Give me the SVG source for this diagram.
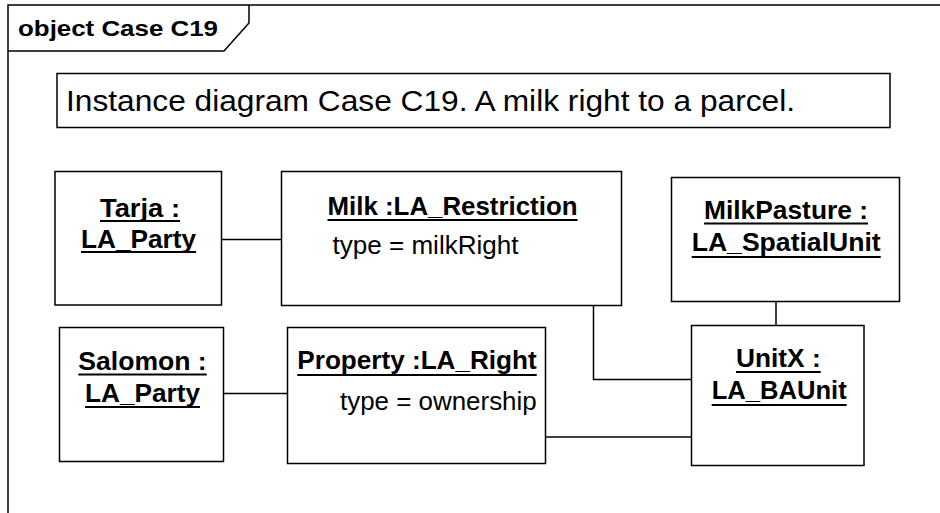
<svg xmlns="http://www.w3.org/2000/svg" width="940" height="513" viewBox="0 0 940 513">
<style>
.box{fill:#fff;stroke:#000;stroke-width:1.5}
.ln{fill:none;stroke:#000;stroke-width:1.5}
.ul{stroke:#000;stroke-width:1.8}
.nm{font-family:"Liberation Sans",Arial,sans-serif;font-weight:bold;font-size:25px;fill:#000}
.at{font-family:"Liberation Sans",Arial,sans-serif;font-size:25px;fill:#000}
</style>
<rect width="940" height="513" fill="#fff"/>
<g id="frame">
<path class="ln" d="M8,513 L8,5 L940,5"/>
<path class="ln" d="M8,51 L224,51 L249,23 L249,5"/>
<text x="18" y="36" font-family="Liberation Sans, Arial, sans-serif" font-weight="bold" font-size="22" textLength="200" lengthAdjust="spacingAndGlyphs">object Case C19</text>
</g>
<g id="note">
<rect class="box" x="57" y="73.5" width="833" height="54"/>
<text x="66" y="111" font-family="Liberation Sans, Arial, sans-serif" font-size="30" textLength="729" lengthAdjust="spacingAndGlyphs">Instance diagram Case C19. A milk right to a parcel.</text>
</g>
<g id="connectors">
<path class="ln" d="M221.5,239.5 L281.5,239.5"/>
<path class="ln" d="M223.5,393.5 L287.5,393.5"/>
<path class="ln" d="M593.5,305.5 L593.5,379.5 L691.5,379.5"/>
<path class="ln" d="M545.5,437 L691.5,437"/>
<path class="ln" d="M776,301.5 L776,325.5"/>
</g>
<g id="tarja">
<rect class="box" x="55" y="171.5" width="166.5" height="133.5"/>
<text class="nm" x="100" y="217" textLength="80" lengthAdjust="spacingAndGlyphs">Tarja :</text>
<line class="ul" x1="100" y1="221" x2="180" y2="221"/>
<text class="nm" x="81" y="247.5" textLength="115" lengthAdjust="spacingAndGlyphs">LA_Party</text>
<line class="ul" x1="81" y1="252" x2="196" y2="252"/>
</g>
<g id="milk">
<rect class="box" x="281.5" y="171.5" width="340" height="134"/>
<text class="nm" x="327.5" y="214.5" textLength="250" lengthAdjust="spacingAndGlyphs">Milk :LA_Restriction</text>
<line class="ul" x1="327.5" y1="220" x2="577.5" y2="220"/>
<text class="at" x="332.5" y="254" textLength="186" lengthAdjust="spacingAndGlyphs">type = milkRight</text>
</g>
<g id="milkpasture">
<rect class="box" x="671.5" y="177.5" width="228" height="124"/>
<text class="nm" x="704" y="219" textLength="164" lengthAdjust="spacingAndGlyphs">MilkPasture :</text>
<line class="ul" x1="704" y1="223.5" x2="868" y2="223.5"/>
<text class="nm" x="691.7" y="251" textLength="189" lengthAdjust="spacingAndGlyphs">LA_SpatialUnit</text>
<line class="ul" x1="691.7" y1="257" x2="880.7" y2="257"/>
</g>
<g id="salomon">
<rect class="box" x="59.5" y="327.5" width="164" height="134"/>
<text class="nm" x="78.3" y="370" textLength="128.4" lengthAdjust="spacingAndGlyphs">Salomon :</text>
<line class="ul" x1="78.3" y1="374.5" x2="206.7" y2="374.5"/>
<text class="nm" x="85" y="401.5" textLength="115" lengthAdjust="spacingAndGlyphs">LA_Party</text>
<line class="ul" x1="85" y1="407" x2="200" y2="407"/>
</g>
<g id="property">
<rect class="box" x="287.5" y="327.5" width="258" height="136"/>
<text class="nm" x="297.3" y="369" textLength="239.4" lengthAdjust="spacingAndGlyphs">Property :LA_Right</text>
<line class="ul" x1="297.3" y1="375" x2="536.7" y2="375"/>
<text class="at" x="340" y="410" textLength="196.7" lengthAdjust="spacingAndGlyphs">type = ownership</text>
</g>
<g id="unitx">
<rect class="box" x="691.5" y="325.5" width="172.5" height="140"/>
<text class="nm" x="736" y="367" textLength="84.7" lengthAdjust="spacingAndGlyphs">UnitX :</text>
<line class="ul" x1="736" y1="372" x2="820.7" y2="372"/>
<text class="nm" x="711.7" y="399" textLength="135" lengthAdjust="spacingAndGlyphs">LA_BAUnit</text>
<line class="ul" x1="711.7" y1="405" x2="846.7" y2="405"/>
</g>
</svg>
